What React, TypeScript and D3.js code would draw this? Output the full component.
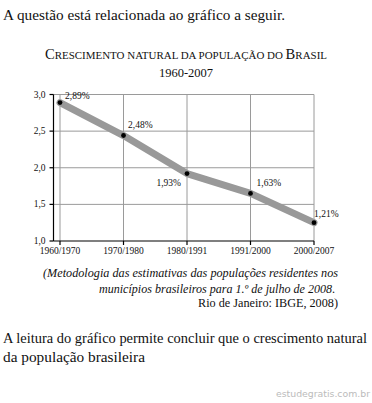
import React from 'react';
import * as d3 from 'd3';

// Periods (x categories)
const periods = ['1960/1970', '1970/1980', '1980/1991', '1991/2000', '2000/2007'];
// Plotted values (% a.a.)
const growth = [2.89, 2.44, 1.92, 1.65, 1.25];
// Printed point labels
const pointLabels = ['2,89%', '2,48%', '1,93%', '1,63%', '1,21%'];
const yTicks = [1.0, 1.5, 2.0, 2.5, 3.0];
const titleWords = ['Crescimento', 'natural', 'da', 'população', 'do', 'Brasil'];

const W = 372;
const H = 403;
const serif = '"Liberation Serif", "Times New Roman", serif';

// label offsets relative to each point (dx, dy, anchor)
const labelPos: [number, number, string][] = [
  [5, -4, 'start'],
  [4.5, -8, 'start'],
  [-6, 12.5, 'end'],
  [6, -7, 'start'],
  [0, -6, 'start'],
];

const App: React.FC = () => {
  const margin = { top: 94.5, left: 60, right: 58, bottom: 162 };
  const x = d3.scalePoint<string>().domain(periods).range([margin.left, W - margin.right]);
  const y = d3.scaleLinear().domain([1, 3]).range([H - margin.bottom, margin.top]);
  const axisX = 53.5;
  const fmt = (v: number) => v.toFixed(1).replace('.', ',');

  const line = d3.line<number>()
    .x((_, i) => x(periods[i]) as number)
    .y(d => y(d));

  // hand-made small caps: capital letters big, the rest upper-cased smaller
  const smallCaps = titleWords.map((w, i) => {
    const first = w[0];
    const isCap = first === first.toUpperCase();
    return (
      <React.Fragment key={i}>
        {i > 0 ? <tspan fontSize={10.5}> </tspan> : null}
        {isCap ? <tspan fontSize={14}>{first}</tspan> : <tspan fontSize={10.5}>{first.toUpperCase()}</tspan>}
        <tspan fontSize={10.5}>{w.slice(1).toUpperCase()}</tspan>
      </React.Fragment>
    );
  });

  return (
    <svg width={W} height={H} style={{ position: 'absolute', left: 0, top: 0, background: '#fff' }}
      fontFamily={serif}>
      <text x={3} y={20} fontSize={15} fill="#111" textLength={282} lengthAdjust="spacingAndGlyphs">
        A questão está relacionada ao gráfico a seguir.
      </text>

      <text x={186} y={59} textAnchor="middle" fill="#111" textLength={282} lengthAdjust="spacingAndGlyphs">
        {smallCaps}
      </text>
      <text x={186} y={77} fontSize={12.5} textAnchor="middle" fill="#111">1960-2007</text>

      {/* grid */}
      <g stroke="#9a9a9a" strokeWidth={1}>
        {yTicks.filter(t => t > 1).map(t => (
          <line key={t} x1={axisX} x2={x(periods[4])} y1={y(t)} y2={y(t)} />
        ))}
        {periods.map(p => (
          <line key={p} x1={x(p)} x2={x(p)} y1={y(3)} y2={y(1)} />
        ))}
      </g>

      {/* axes */}
      <g stroke="#000" strokeWidth={1.2}>
        <line x1={axisX} x2={axisX} y1={y(3)} y2={y(1)} />
        <line x1={axisX} x2={x(periods[4])} y1={y(1)} y2={y(1)} />
        {yTicks.map(t => (
          <line key={t} x1={axisX - 4} x2={axisX} y1={y(t)} y2={y(t)} />
        ))}
        {periods.map(p => (
          <line key={p} x1={x(p)} x2={x(p)} y1={y(1)} y2={y(1) + 4} />
        ))}
      </g>
      <g fontSize={9.5} fill="#111">
        {yTicks.map(t => (
          <text key={t} x={axisX - 8} y={y(t) + 3} textAnchor="end">{fmt(t)}</text>
        ))}
        {periods.map(p => (
          <text key={p} x={x(p)} y={y(1) + 13} textAnchor="middle">{p}</text>
        ))}
      </g>

      {/* series */}
      <path d={line(growth) || ''} fill="none" stroke="#999" strokeWidth={7} strokeLinejoin="round" strokeLinecap="round" />
      {growth.map((v, i) => (
        <circle key={i} cx={x(periods[i])} cy={y(v)} r={2.4} fill="#000" />
      ))}
      <g fontSize={9.5} fill="#111">
        {growth.map((v, i) => (
          <text key={i} x={(x(periods[i]) as number) + labelPos[i][0]} y={y(v) + labelPos[i][1]}
            textAnchor={labelPos[i][2]}>{pointLabels[i]}</text>
        ))}
      </g>

      {/* source */}
      <g fontSize={12} fill="#111" textAnchor="end">
        <text x={338} y={277} fontStyle="italic" textLength={295} lengthAdjust="spacingAndGlyphs">
          (Metodologia das estimativas das populações residentes nos
        </text>
        <text x={335} y={292.5} textLength={236} lengthAdjust="spacingAndGlyphs">
          <tspan fontStyle="italic">municípios brasileiros para 1.º de julho de 2008</tspan>.
        </text>
        <text x={338} y={307} textLength={140} lengthAdjust="spacingAndGlyphs">Rio de Janeiro: IBGE, 2008)</text>
      </g>

      <text x={3} y={343} fontSize={14.5} fill="#111" textLength={364} lengthAdjust="spacingAndGlyphs">
        A leitura do gráfico permite concluir que o crescimento natural
      </text>
      <text x={3} y={362} fontSize={14.5} fill="#111" textLength={142} lengthAdjust="spacingAndGlyphs">
        da população brasileira
      </text>

      <text x={370} y={397} fontSize={9} fill="#bbb" textAnchor="end" fontFamily='"DejaVu Sans", sans-serif'
        textLength={94} lengthAdjust="spacingAndGlyphs">estudegratis.com.br</text>
    </svg>
  );
};

export default App;
